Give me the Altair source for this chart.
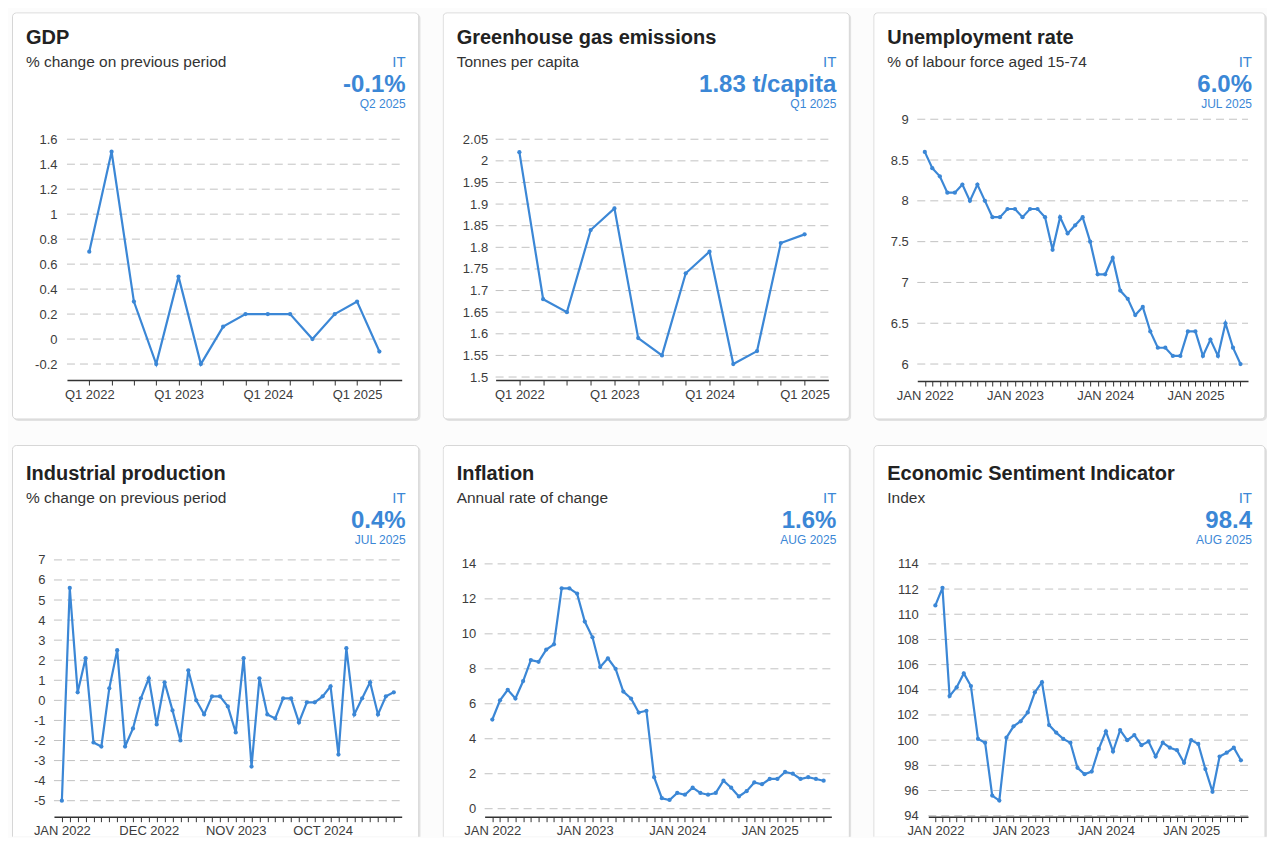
import json
import altair as alt
import pandas as pd

FONT = "Liberation Sans"
BLUE = "#3b87d6"
MONTHS = ["JAN", "FEB", "MAR", "APR", "MAY", "JUN", "JUL", "AUG", "SEP", "OCT", "NOV", "DEC"]


def quarters(n):
    return [f"Q{i % 4 + 1} {2022 + i // 4}" for i in range(n)]


def months(n):
    return [f"{MONTHS[i % 12]} {2022 + i // 12}" for i in range(n)]


# ---------------- data ----------------
gdp_periods = quarters(14)
gdp_values = [0.7, 1.5, 0.3, -0.2, 0.5, -0.2, 0.1, 0.2, 0.2, 0.2, 0.0, 0.2, 0.3, -0.1]
gdp_ticks = [-0.2, 0, 0.2, 0.4, 0.6, 0.8, 1, 1.2, 1.4, 1.6]
gdp_labels = ["Q1 2022", "Q1 2023", "Q1 2024", "Q1 2025"]

ghg_periods = quarters(13)
ghg_values = [2.02, 1.68, 1.65, 1.84, 1.89, 1.59, 1.55, 1.74, 1.79, 1.53, 1.56, 1.81, 1.83]
ghg_ticks = [1.5, 1.55, 1.6, 1.65, 1.7, 1.75, 1.8, 1.85, 1.9, 1.95, 2, 2.05]
ghg_labels = ["Q1 2022", "Q1 2023", "Q1 2024", "Q1 2025"]

unemp_periods = months(43)
unemp_values = [8.6, 8.4, 8.3, 8.1, 8.1, 8.2, 8.0, 8.2, 8.0, 7.8, 7.8, 7.9,
                7.9, 7.8, 7.9, 7.9, 7.8, 7.4, 7.8, 7.6, 7.7, 7.8, 7.5, 7.1,
                7.1, 7.3, 6.9, 6.8, 6.6, 6.7, 6.4, 6.2, 6.2, 6.1, 6.1, 6.4,
                6.4, 6.1, 6.3, 6.1, 6.5, 6.2, 6.0]
unemp_ticks = [6, 6.5, 7, 7.5, 8, 8.5, 9]
unemp_labels = ["JAN 2022", "JAN 2023", "JAN 2024", "JAN 2025"]

ip_periods = months(43)
ip_values = [-5.0, 5.6, 0.4, 2.1, -2.1, -2.3, 0.6, 2.5, -2.3, -1.4, 0.1, 1.1,
             -1.2, 0.9, -0.5, -2.0, 1.5, 0.0, -0.7, 0.2, 0.2, -0.3, -1.6, 2.1,
             -3.3, 1.1, -0.7, -0.9, 0.1, 0.1, -1.1, -0.1, -0.1, 0.2, 0.7, -2.7,
             2.6, -0.7, 0.1, 0.9, -0.7, 0.2, 0.4]
ip_ticks = [-5, -4, -3, -2, -1, 0, 1, 2, 3, 4, 5, 6, 7]
ip_labels = ["JAN 2022", "DEC 2022", "NOV 2023", "OCT 2024"]

infl_periods = months(44)
infl_values = [5.1, 6.2, 6.8, 6.3, 7.3, 8.5, 8.4, 9.1, 9.4, 12.6, 12.6, 12.3,
               10.7, 9.8, 8.1, 8.6, 8.0, 6.7, 6.3, 5.5, 5.6, 1.8, 0.6, 0.5,
               0.9, 0.8, 1.2, 0.9, 0.8, 0.9, 1.6, 1.2, 0.7, 1.0, 1.5, 1.4,
               1.7, 1.7, 2.1, 2.0, 1.7, 1.8, 1.7, 1.6]
infl_ticks = [0, 2, 4, 6, 8, 10, 12, 14]
infl_labels = ["JAN 2022", "JAN 2023", "JAN 2024", "JAN 2025"]

esi_periods = months(44)
esi_values = [110.7, 112.1, 103.5, 104.2, 105.3, 104.3, 100.1, 99.8, 95.6, 95.2, 100.2, 101.1,
              101.5, 102.2, 103.8, 104.6, 101.2, 100.6, 100.1, 99.8, 97.8, 97.3, 97.5, 99.3,
              100.7, 99.1, 100.8, 100.0, 100.4, 99.6, 99.9, 98.7, 99.8, 99.4, 99.2, 98.2,
              100.0, 99.7, 97.7, 95.9, 98.7, 99.0, 99.4, 98.4]
esi_ticks = [94, 96, 98, 100, 102, 104, 106, 108, 110, 112, 114]
esi_labels = ["JAN 2022", "JAN 2023", "JAN 2024", "JAN 2025"]

titles = ["GDP", "Greenhouse gas emissions", "Unemployment rate",
          "Industrial production", "Inflation", "Economic Sentiment Indicator"]
subtitles = ["% change on previous period", "Tonnes per capita", "% of labour force aged 15-74",
             "% change on previous period", "Annual rate of change", "Index"]
country = "IT"
latest = ["-0.1%", "1.83 t/capita", "6.0%", "0.4%", "1.6%", "98.4"]
latest_period = ["Q2 2025", "Q1 2025", "JUL 2025", "JUL 2025", "AUG 2025", "AUG 2025"]


def text_layer(txt, x, y, size, color, align="left", bold=False):
    return alt.Chart(pd.DataFrame({"t": [txt]})).mark_text(
        align=align, baseline="alphabetic", font=FONT, fontSize=size,
        fontWeight="bold" if bold else "normal", color=color,
    ).encode(text="t:N", x=alt.value(x), y=alt.value(y))


def panel(i, periods, values, ticks, labels, W, H, x0, x1, ybot, ytop, axis_y,
          ylab, pad, dy, cut):
    df = pd.DataFrame({"period": periods, "value": values, "idx": list(range(len(values)))})
    grid_df = pd.DataFrame({"value": ticks})
    yenc = alt.Y(
        "value:Q",
        scale=alt.Scale(domain=[min(ticks), max(ticks)], range=[ybot, ytop], nice=False, zero=False),
        axis=alt.Axis(values=ticks, orient="left", offset=-ylab, labelPadding=0, ticks=False,
                      domain=False, grid=False, title=None, labelFont=FONT, labelFontSize=13,
                      labelColor="#3c3c3c", labelExpr="'' + datum.value", zindex=1),
    )
    label_expr = f"indexof({json.dumps(labels)}, datum.value) >= 0 ? datum.label : ''"
    xenc = alt.X(
        "period:O",
        scale=alt.Scale(type="point", domain=periods, range=[x0, x1], padding=pad),
        axis=alt.Axis(orient="bottom", offset=axis_y - H, title=None, grid=False, labelAngle=0,
                      domainColor="#333", domainWidth=1.5, tickColor="#333", tickSize=5,
                      labelFont=FONT, labelFontSize=13, labelColor="#3c3c3c", labelPadding=3,
                      labelOverlap=False, labelExpr=label_expr, zindex=1),
    )
    box = pd.DataFrame({"a": [0]})
    shadow = alt.Chart(box).mark_rect(fill="#e2e2e2", cornerRadius=5, clip=True).encode(
        x=alt.value(1.5), x2=alt.value(W), y=alt.value(1.5), y2=alt.value(H + 30 if cut else H))
    card = alt.Chart(box).mark_rect(fill="white", stroke="#d6d6d6", strokeWidth=1,
                                    cornerRadius=4, clip=True).encode(
        x=alt.value(0.5), x2=alt.value(W - 2), y=alt.value(0.5),
        y2=alt.value(H + 30 if cut else H - 2))
    grid = alt.Chart(grid_df).mark_rule(color="#c2c2c2", strokeDash=[8, 5], strokeWidth=1).encode(
        y=yenc, x=alt.value(x0), x2=alt.value(x1))
    line = alt.Chart(df).mark_line(color=BLUE, strokeWidth=2.2).encode(
        x=xenc, y=yenc, order=alt.Order("idx:Q"))
    pts = alt.Chart(df).mark_circle(color=BLUE, size=18, opacity=1).encode(x=xenc, y=yenc)
    texts = [
        text_layer(titles[i], 14, 32 + dy, 20, "#222", bold=True),
        text_layer(subtitles[i], 14, 55 + dy, 15.5, "#333"),
        text_layer(country, W - 15, 55 + dy, 15, BLUE, align="right"),
        text_layer(latest[i], W - 15, 80 + dy, 24, BLUE, align="right", bold=True),
        text_layer(latest_period[i], W - 15, 96 + dy, 12, BLUE, align="right"),
    ]
    return alt.layer(shadow, card, grid, line, pts, *texts).properties(width=W, height=H)


p1 = panel(0, gdp_periods, gdp_values, gdp_ticks, gdp_labels, 409, 409, 55, 390, 352, 127, 368, 45, 1, 0, False)
p2 = panel(1, ghg_periods, ghg_values, ghg_ticks, ghg_labels, 409, 409, 53, 386, 365, 127, 368, 45, 1, 0, False)
p3 = panel(2, unemp_periods, unemp_values, unemp_ticks, unemp_labels, 394, 409, 44, 375, 352, 107, 369, 35, 2.4, 0, False)
p4 = panel(3, ip_periods, ip_values, ip_ticks, ip_labels, 409, 392, 42, 390, 356, 115, 372, 33, 2, 3, True)
p5 = panel(4, infl_periods, infl_values, infl_ticks, infl_labels, 409, 392, 42, 389, 364, 119, 372, 33, 2, 3, True)
p6 = panel(5, esi_periods, esi_values, esi_ticks, esi_labels, 394, 392, 55, 375, 371, 119, 372, 45, 1.8, 3, True)

chart = alt.vconcat(
    alt.hconcat(p1, p2, p3, spacing=22),
    alt.hconcat(p4, p5, p6, spacing=22),
    spacing=24,
).properties(
    padding={"left": 4, "top": 4, "right": 0, "bottom": 0},
    background="#fcfcfc",
).configure_view(strokeWidth=0)

chart.save("out.html", embed_options={"renderer": "svg", "actions": False})
